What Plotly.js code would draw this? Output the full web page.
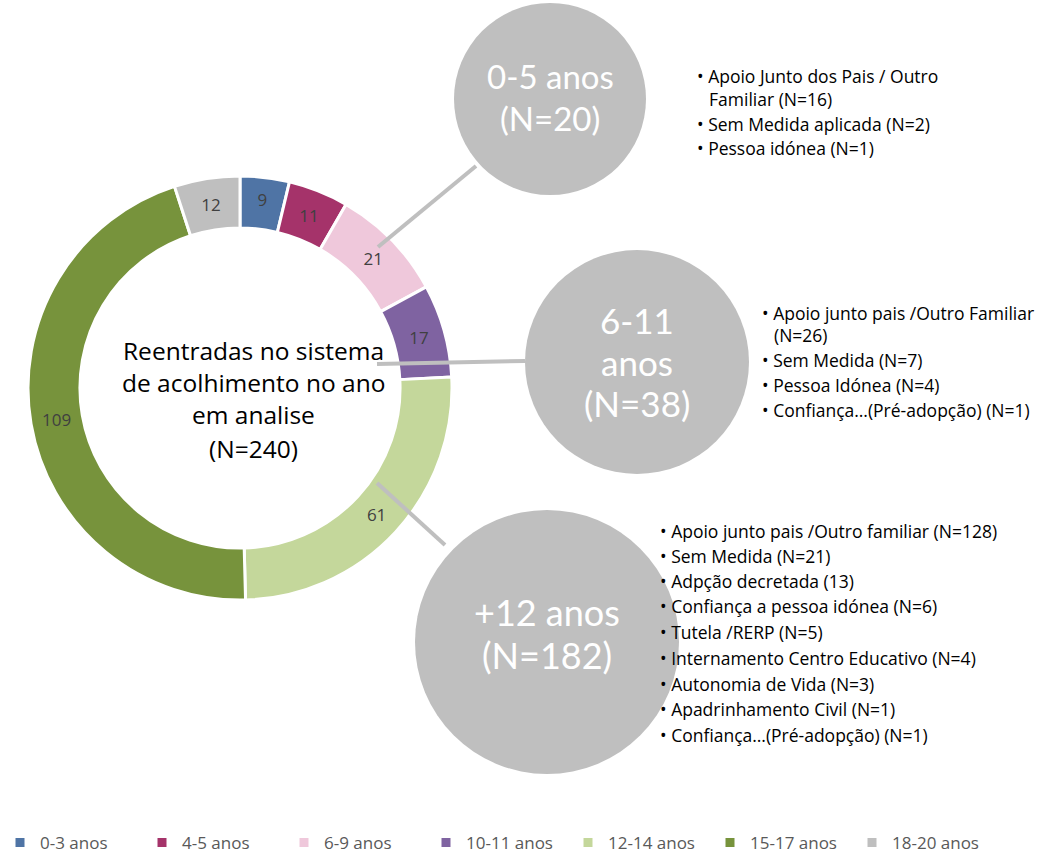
<!DOCTYPE html>
<html>
<head>
<meta charset="utf-8">
<script src="https://cdn.plot.ly/plotly-3.0.1.min.js"></script>
<style>html,body{margin:0;padding:0;background:#fff;}#chart{width:1047px;height:854px;}</style>
</head>
<body>
<div id="chart"></div>
<script>
// ---- data ----
const categories = ["0-3 anos", "4-5 anos", "6-9 anos", "10-11 anos", "12-14 anos", "15-17 anos", "18-20 anos"];
const values = [9, 11, 21, 17, 61, 109, 12];
const colors = ["#4F74A5", "#A5336A", "#EFC8DB", "#7F63A1", "#C4D79B", "#77933C", "#BFBFBF"];
const centerText = ["Reentradas no sistema", "de acolhimento no ano", "em analise", "(N=240)"];
const groupLabels = [["0-5 anos", "(N=20)"], ["6-11", "anos", "(N=38)"], ["+12 anos", "(N=182)"]];
const groupLists = [
  ["Apoio Junto dos Pais / Outro", " Familiar (N=16)", "Sem Medida aplicada (N=2)", "Pessoa idónea (N=1)"],
  ["Apoio junto pais /Outro Familiar", " (N=26)", "Sem Medida (N=7)", "Pessoa Idónea (N=4)", "Confiança…(Pré-adopção) (N=1)"],
  ["Apoio junto pais /Outro familiar (N=128)", "Sem Medida (N=21)", "Adpção decretada (13)", "Confiança a pessoa idónea (N=6)",
   "Tutela /RERP (N=5)", "Internamento Centro Educativo (N=4)", "Autonomia de Vida (N=3)", "Apadrinhamento Civil (N=1)", "Confiança…(Pré-adopção) (N=1)"]
];

// ---- layout helpers (pixel -> paper) ----
const W = 1047, H = 854;
const px = x => x / W;
const py = y => 1 - y / H;
const FONT = "Lato, 'Open Sans', sans-serif";
const FONT2 = "'Open Sans', Lato, sans-serif";

const cx = 240, cy = 388, R = 212;

const trace = {
  type: "pie",
  labels: categories,
  values: values,
  sort: false,
  direction: "clockwise",
  rotation: 0,
  hole: 0.755,
  marker: {colors: colors, line: {color: "#FFFFFF", width: 3}},
  textinfo: "value",
  textposition: "inside",
  insidetextorientation: "horizontal",
  textfont: {family: FONT2, size: 17, color: "#404040"},
  domain: {x: [px(cx - R), px(cx + R)], y: [py(cy + R), py(cy - R)]},
  hoverinfo: "label+value"
};

// bubbles and connectors
const bubbles = [
  {x: 550, y: 99, r: 96, line: [[378, 247], [476, 166]], textY: [76, 118], fs: 33, listX: 695, listY: [76, 99, 124, 148]},
  {x: 637, y: 362, r: 112, line: [[377, 364], [525, 361]], textY: [320, 362, 403], fs: 35, listX: 760, listY: [313, 335, 360, 385, 410]},
  {x: 547, y: 642, r: 132, line: [[377, 483], [445, 545]], textY: [612, 655], fs: 36, listX: 658, listY: [531, 556, 581, 606, 632, 658, 684, 709, 735]}
];

const shapes = [];
const annotations = [];
bubbles.forEach((b, i) => {
  shapes.push({type: "line", xref: "paper", yref: "paper",
    x0: px(b.line[0][0]), y0: py(b.line[0][1]), x1: px(b.line[1][0]), y1: py(b.line[1][1]),
    line: {color: "#BFBFBF", width: 4}});
});
bubbles.forEach((b, i) => {
  shapes.push({type: "circle", xref: "paper", yref: "paper",
    x0: px(b.x - b.r), x1: px(b.x + b.r), y0: py(b.y + b.r), y1: py(b.y - b.r),
    fillcolor: "#BFBFBF", line: {width: 0}});
  groupLabels[i].forEach((t, j) => {
    annotations.push({xref: "paper", yref: "paper", x: px(b.x), y: py(b.textY[j]), text: t,
      showarrow: false, xanchor: "center", yanchor: "middle",
      font: {family: FONT, size: b.fs, color: "#FFFFFF"}});
  });
  groupLists[i].forEach((t, j) => {
    const isCont = t.startsWith(" ");
    annotations.push({xref: "paper", yref: "paper", x: px(isCont ? b.listX + 12 : b.listX), y: py(b.listY[j]),
      text: isCont ? t.trim() : "\u2022 " + t,
      showarrow: false, xanchor: "left", yanchor: "middle",
      font: {family: FONT2, size: 17.5, color: "#000000"}});
  });
});

const centerY = [350, 382, 414, 448];
centerText.forEach((t, j) => {
  annotations.push({xref: "paper", yref: "paper", x: px(253), y: py(centerY[j]), text: t,
    showarrow: false, xanchor: "center", yanchor: "middle",
    font: {family: FONT2, size: 24.5, color: "#000000"}});
});

const layout = {
  width: W, height: H,
  margin: {l: 0, r: 0, t: 0, b: 0, autoexpand: false},
  paper_bgcolor: "#FFFFFF",
  showlegend: true,
  legend: {orientation: "h", x: 0, xanchor: "left", y: py(843), yanchor: "middle",
    font: {family: FONT2, size: 17, color: "#595959"},
    itemwidth: 30, entrywidth: 97, traceorder: "normal"},
  shapes: shapes,
  annotations: annotations
};

Plotly.newPlot("chart", [trace], layout, {displayModeBar: false, staticPlot: true});
</script>
</body>
</html>
